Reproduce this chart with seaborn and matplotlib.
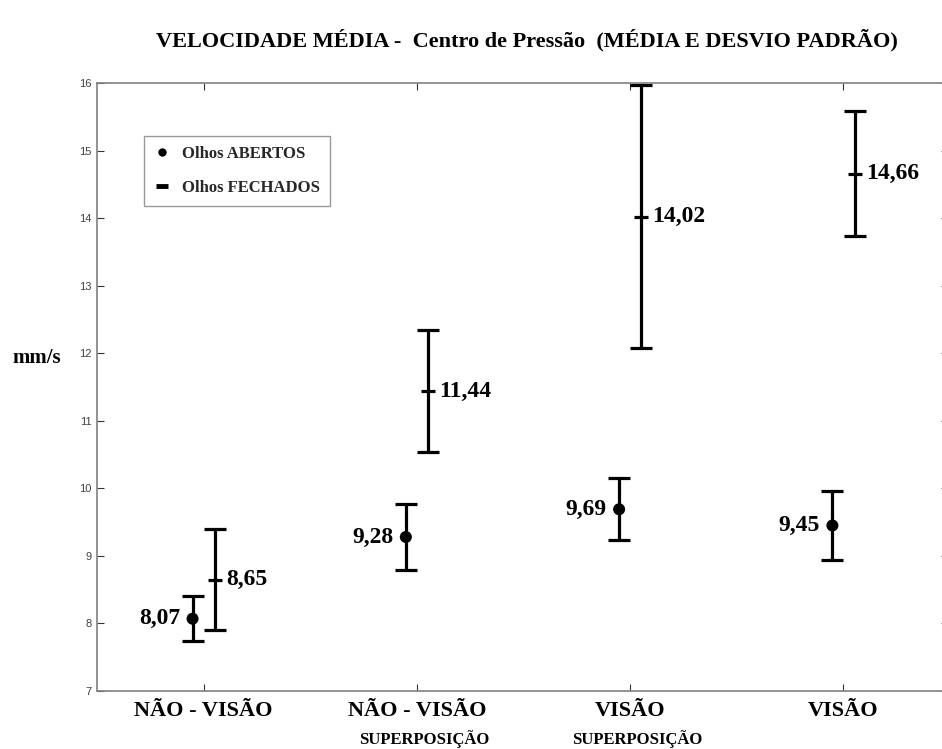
import matplotlib
matplotlib.use("Agg")
import matplotlib.pyplot as plt
import matplotlib.transforms as mtransforms
from matplotlib.lines import Line2D
import seaborn as sns
import pandas as pd

# ---- data ----
groups_main = ["NÃO - VISÃO", "NÃO - VISÃO", "VISÃO", "VISÃO"]
groups_sub = ["", "SUPERPOSIÇÃO", "SUPERPOSIÇÃO", ""]
group_pos = [1, 2, 3, 4]
open_mean = [8.07, 9.28, 9.69, 9.45]
open_sd = [0.33, 0.49, 0.46, 0.51]
closed_mean = [8.65, 11.44, 14.02, 14.66]
closed_sd = [0.75, 0.90, 1.95, 0.93]
open_labels = ["8,07", "9,28", "9,69", "9,45"]
closed_labels = ["8,65", "11,44", "14,02", "14,66"]
series_names = ["Olhos ABERTOS", "Olhos FECHADOS"]
yticks = [7, 8, 9, 10, 11, 12, 13, 14, 15, 16]
title = "VELOCIDADE MÉDIA -  Centro de Pressão  (MÉDIA E DESVIO PADRÃO)"
ylabel = "mm/s"

shift = 0.052
df_open = pd.DataFrame({"x": [p - shift for p in group_pos], "y": open_mean, "sd": open_sd})
df_closed = pd.DataFrame({"x": [p + shift for p in group_pos], "y": closed_mean, "sd": closed_sd})

sns.set_theme(style="white")
plt.rcParams["font.family"] = ["Liberation Serif", "DejaVu Serif"]

fig = plt.figure(figsize=(9.42, 7.49), dpi=100)
W, H = 942, 749
ax = fig.add_axes([97 / W, 58 / H, 851 / W, 608 / H])

# error bars
for d in (df_open, df_closed):
    ax.errorbar(d["x"], d["y"], yerr=d["sd"], fmt="none", ecolor="black",
                elinewidth=2.3, capsize=8, capthick=2.3, zorder=2)

sns.scatterplot(data=df_open, x="x", y="y", ax=ax, color="black", s=75,
                marker="o", edgecolor="none", zorder=3, legend=False)
sns.scatterplot(data=df_closed, x="x", y="y", ax=ax, color="black", s=110,
                marker="_", linewidth=2.3, zorder=3, legend=False)

lab_font = dict(fontsize=17, fontweight="bold", color="black")
for x, y, t in zip(df_open["x"], df_open["y"], open_labels):
    ax.annotate(t, (x, y), xytext=(-9, 0), textcoords="offset points",
                ha="right", va="center", **lab_font)
for x, y, t in zip(df_closed["x"], df_closed["y"], closed_labels):
    ax.annotate(t, (x, y), xytext=(8, 0), textcoords="offset points",
                ha="left", va="center", **lab_font)

ax.set_xlim(0.5, 4.49)
ax.set_ylim(7, 16)
ax.set_yticks(yticks)
ax.set_yticklabels([str(v) for v in yticks], fontfamily="Liberation Sans",
                   fontsize=8, color="#404040")
ax.set_xticks(group_pos)
ax.set_xticklabels(groups_main, fontsize=16, fontweight="bold", color="black")
off = mtransforms.ScaledTranslation(7 / 100, 0, fig.dpi_scale_trans)
for lbl in ax.get_xticklabels():
    lbl.set_transform(lbl.get_transform() + off)
ax.set_xlabel("")
ax.set_ylabel("")

ax.tick_params(axis="both", direction="in", length=5, width=0.8, color="#333333",
               top=True, right=True, bottom=True, left=True)
ax.tick_params(axis="x", pad=7)
ax.tick_params(axis="y", pad=4)
for s in ax.spines.values():
    s.set_visible(True)
    s.set_color("#808080")
    s.set_linewidth(1.2)

trans = mtransforms.blended_transform_factory(ax.transData, ax.transAxes)
for x, t in zip(group_pos, groups_sub):
    if t:
        ax.annotate(t, (x, 0), xycoords=trans, xytext=(5, -34.5),
                    textcoords="offset points", ha="center", va="center",
                    fontsize=12, fontweight="bold", color="black")

handles = [
    Line2D([], [], lw=0, marker="o", ms=6, color="black", markeredgewidth=0),
    Line2D([], [], lw=0, marker="_", ms=9, color="black", markeredgewidth=3.5),
]
leg = ax.legend(handles, series_names, loc="upper left",
                bbox_to_anchor=((144 - 97) / 851, (691 - 136) / 608),
                borderaxespad=0, borderpad=0.6, handlelength=1.0,
                handletextpad=0.65, labelspacing=1.05, fancybox=False,
                frameon=True, prop={"weight": "bold", "size": 12})
leg.get_frame().set_edgecolor("#808080")
leg.get_frame().set_linewidth(1.0)

fig.text(527 / W, 1 - 40 / H, title, ha="center", va="center",
         fontsize=16, fontweight="bold", color="black")
fig.text(37 / W, 1 - 358 / H, ylabel, ha="center", va="center",
         fontsize=15, fontweight="bold", color="black")

fig.savefig("out.png", dpi=100, facecolor="white")
